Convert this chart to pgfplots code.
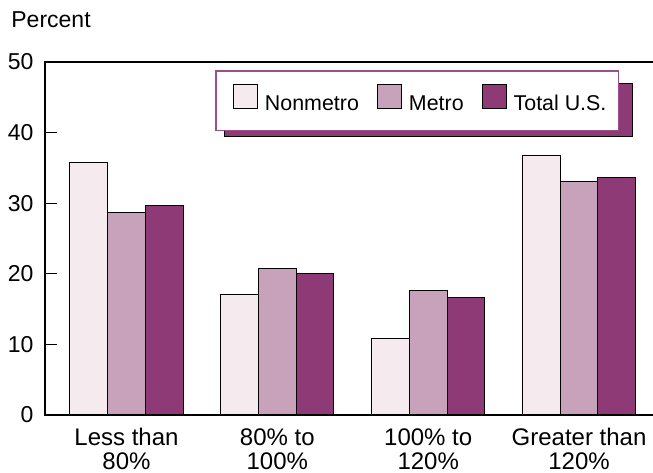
\documentclass[border=0pt]{standalone}
\usepackage{pgfplots}
\pgfplotsset{compat=1.18}
\usepackage{fontspec}
\setmainfont{Liberation Sans}
\definecolor{cnon}{HTML}{F5EAEE}
\definecolor{cmet}{HTML}{C8A2BA}
\definecolor{ctot}{HTML}{8E3A77}
\definecolor{cleg}{HTML}{9C4F8C}
\begin{document}
\begin{tikzpicture}[font=\fontsize{11.5}{12}\selectfont]
\useasboundingbox (-22.5pt,-28.5pt) rectangle (304pt,207.5pt);
\begin{axis}[
  at={(0pt,0pt)}, anchor=south west,
  width=304pt, height=176.5pt, scale only axis,
  ybar=0pt, bar width=0.25,
  xmin=-0.54, xmax=3.49, ymin=0, ymax=50,
  ytick={0,10,20,30,40,50},
  xtick={0,1,2,3},
  xticklabels={{Less than\\80\%},{80\% to\\100\%},{100\% to\\120\%},{Greater than\\120\%}},
  tick label style={font=\fontsize{11.5}{12}\selectfont},
  xticklabel style={align=center, yshift=-3.2pt, font=\fontsize{12}{12}\selectfont},
  axis line style={draw=none},
  x tick style={draw=none},
  y tick style={line width=0.5pt, black},
  major tick length=6pt,
  tick align=inside,
  xtick pos=bottom, ytick pos=left,
  yticklabel style={xshift=-2.2pt},
  /pgf/number format/assume math mode=true,
  clip=false,
  legend columns=3,
  legend image code/.code={\draw[#1] (4.5pt,-2pt) rectangle (16.5pt,10pt); \path (0pt,0pt) (18pt,0pt);},
  legend style={at={(0.28,0.977)}, anchor=north west, draw=cleg, line width=0.75pt, fill=white,
    font=\fontsize{10.7}{12}\selectfont,
    inner xsep=4pt, inner ysep=6.5pt,
    /tikz/every even column/.append style={column sep=2.5pt},
    nodes={inner sep=2pt}},
]
\addplot[fill=cnon, draw=black, line width=0.5pt] coordinates {(0,35.7) (1,17.0) (2,10.8) (3,36.8)};
\addplot[fill=cmet, draw=black, line width=0.5pt] coordinates {(0,28.75) (1,20.7) (2,17.6) (3,33.1)};
\addplot[fill=ctot, draw=black, line width=0.5pt] coordinates {(0,29.7) (1,20.1) (2,16.7) (3,33.6)};
\legend{Nonmetro, Metro, Total U.S.}
\draw[line width=1.2pt] (rel axis cs:1,1) -- (rel axis cs:0,1) -- (rel axis cs:0,0) -- (rel axis cs:1,0);
\filldraw[fill=ctot, draw=black, line width=0.5pt] (rel axis cs:0.296,0.79) rectangle (rel axis cs:0.966,0.94);
\node[anchor=base west, inner sep=0pt] at (rel axis cs:0,1) [xshift=-17pt, yshift=17.5pt] {Percent};
\end{axis}
\end{tikzpicture}
\end{document}
